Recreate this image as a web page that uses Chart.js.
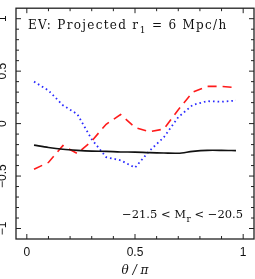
<!DOCTYPE html>
<html>
<head>
<meta charset="utf-8">
<script src="https://cdn.jsdelivr.net/npm/chart.js@4.4.1/dist/chart.umd.min.js"></script>
<style>
  html, body { margin: 0; padding: 0; background: #fff; }
  #wrap { width: 255px; height: 279px; }
</style>
</head>
<body>
<div id="wrap"><canvas id="evChart" width="255" height="279"></canvas></div>
<script>
// --- datos ---
const thetaBins = [0.0333, 0.1, 0.1667, 0.2333, 0.3, 0.3667, 0.4333, 0.5, 0.5667, 0.6333, 0.7, 0.7667, 0.8333, 0.9, 0.9667];
const evSolid  = [-0.205, -0.228, -0.245, -0.255, -0.262, -0.265, -0.27, -0.272, -0.277, -0.28, -0.282, -0.265, -0.255, -0.255, -0.258];
const evDashed = [-0.435, -0.37, -0.21, -0.285, -0.166, -0.006, 0.086, -0.037, -0.077, -0.052, 0.132, 0.30, 0.355, 0.355, 0.343];
const evDotted = [0.40, 0.316, 0.175, 0.09, -0.15, -0.32, -0.35, -0.42, -0.26, -0.13, 0.061, 0.178, 0.214, 0.208, 0.22];

const xTicks = [0, 0.5, 1];
const yTicks = [-1, -0.5, 0, 0.5, 1];
const minorStep = 0.1;

const topLabel = ['EV: Projected r', '1', ' = 6 Mpc/h'];
const bottomLabel = ['\u221221.5 < M', 'r', ' < \u221220.5'];

function fmt(v) {
    return String(v).replace('-', '\u2212');
}

function toPoints(ys) {
    return thetaBins.map((x, i) => ({ x: x, y: ys[i] }));
}

// texto con subindice: [antes, sub, despues]; devuelve el ancho
function drawSubText(ctx, parts, x, y, size, spacing, dryRun) {
    const x0 = x;
    ctx.letterSpacing = spacing + 'px';
    ctx.font = size + 'px "DejaVu Serif"';
    if (!dryRun) ctx.fillText(parts[0], x, y);
    x += ctx.measureText(parts[0]).width;
    ctx.font = Math.round(size * 0.75) + 'px "DejaVu Serif"';
    if (!dryRun) ctx.fillText(parts[1], x + 0.5, y + 4);
    x += ctx.measureText(parts[1]).width + 0.5;
    ctx.font = size + 'px "DejaVu Serif"';
    if (!dryRun) ctx.fillText(parts[2], x, y);
    x += ctx.measureText(parts[2]).width;
    ctx.letterSpacing = '0px';
    return x - x0;
}

// marco + ticks hacia adentro en los 4 lados + textos
const framePlugin = {
    id: 'frame',
    afterDatasetsDraw(chart) {
        const ctx = chart.ctx;
        const a = chart.chartArea;
        const sx = chart.scales.x, sy = chart.scales.y;
        ctx.save();
        ctx.strokeStyle = '#222';
        ctx.lineWidth = 1.3;
        ctx.strokeRect(a.left, a.top, a.right - a.left, a.bottom - a.top);

        ctx.lineWidth = 1;
        ctx.beginPath();
        for (let v = 0; v <= 1.0001; v += minorStep) {
            const px = sx.getPixelForValue(v);
            const major = xTicks.some(t => Math.abs(t - v) < 1e-6);
            const len = major ? 5 : 3;
            ctx.moveTo(px, a.bottom); ctx.lineTo(px, a.bottom - len);
            ctx.moveTo(px, a.top); ctx.lineTo(px, a.top + len);
        }
        for (let v = -1; v <= 1.0001; v += minorStep) {
            const py = sy.getPixelForValue(v);
            const major = yTicks.some(t => Math.abs(t - v) < 1e-6);
            const len = major ? 5 : 3;
            ctx.moveTo(a.left, py); ctx.lineTo(a.left + len, py);
            ctx.moveTo(a.right, py); ctx.lineTo(a.right - len, py);
        }
        ctx.stroke();

        ctx.fillStyle = '#111';
        ctx.textBaseline = 'alphabetic';
        ctx.textAlign = 'left';
        drawSubText(ctx, topLabel, a.left + 12, a.top + 21, 12, 1.3, false);

        const w = drawSubText(ctx, bottomLabel, 0, 0, 11.5, 0, true);
        drawSubText(ctx, bottomLabel, a.right - 11 - w, a.bottom - 21.5, 11.5, 0, false);
        ctx.restore();
    }
};

const ctx = document.getElementById('evChart');
new Chart(ctx, {
    type: 'line',
    data: {
        datasets: [
            {
                data: toPoints(evSolid),
                borderColor: '#111',
                borderWidth: 1.6,
                pointRadius: 0,
                tension: 0.3
            },
            {
                data: toPoints(evDashed),
                borderColor: '#ff1a1a',
                borderWidth: 1.6,
                borderDash: [9, 6],
                pointRadius: 0,
                tension: 0
            },
            {
                data: toPoints(evDotted),
                borderColor: '#2a2aff',
                borderWidth: 1.8,
                borderDash: [1.6, 3],
                pointRadius: 0,
                tension: 0
            }
        ]
    },
    options: {
        responsive: false,
        devicePixelRatio: 1,
        animation: false,
        layout: { padding: { top: 1, right: 1, bottom: 0, left: 0 } },
        plugins: { legend: { display: false }, tooltip: { enabled: false } },
        scales: {
            x: {
                type: 'linear',
                min: -0.05,
                max: 1.05,
                grid: { display: false, drawTicks: false },
                border: { display: false },
                afterBuildTicks: s => { s.ticks = xTicks.map(v => ({ value: v })); },
                afterFit: s => { s.height = 40; },
                ticks: {
                    color: '#111',
                    padding: 6,
                    maxRotation: 0,
                    font: { family: 'Liberation Sans', size: 12 },
                    callback: v => fmt(v)
                },
                title: {
                    display: true,
                    text: '\u03b8 / \u03c0',
                    color: '#111',
                    font: { family: 'DejaVu Serif', style: 'italic', size: 12 },
                    padding: { top: 0, bottom: 1 }
                }
            },
            y: {
                type: 'linear',
                min: -1.1,
                max: 1.1,
                grid: { display: false, drawTicks: false },
                border: { display: false },
                afterBuildTicks: s => { s.ticks = yTicks.map(v => ({ value: v })); },
                afterFit: s => { s.width = 16; },
                ticks: {
                    color: '#111',
                    padding: 1,
                    minRotation: 90,
                    maxRotation: 90,
                    crossAlign: 'center',
                    font: { family: 'Liberation Sans', size: 12 },
                    callback: v => fmt(v)
                }
            }
        }
    },
    plugins: [framePlugin]
});
</script>
</body>
</html>
